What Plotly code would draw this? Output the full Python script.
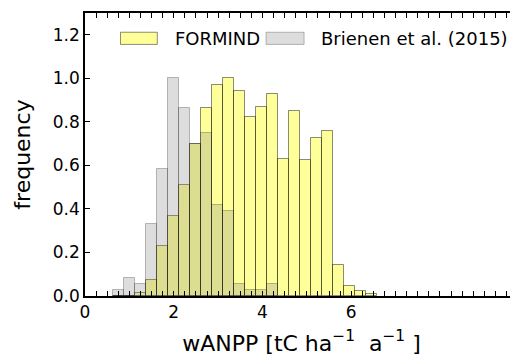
import plotly.graph_objects as go

# bin centers (tC ha^-1 a^-1), bins ~0.248 wide
bin_centers = [0.744, 0.992, 1.240, 1.488, 1.736, 1.984, 2.232, 2.480, 2.728, 2.976,
               3.224, 3.472, 3.720, 3.968, 4.216, 4.464, 4.712, 4.960, 5.208, 5.456,
               5.704, 5.952, 6.200, 6.448]
bin_width = 0.248

formind = [0.0, 0.0, 0.012, 0.075, 0.232, 0.366, 0.509, 0.697, 0.863, 0.969,
           1.0, 0.942, 0.823, 0.870, 0.929, 0.628, 0.852, 0.624, 0.726, 0.760,
           0.144, 0.047, 0.023, 0.009]
brienen = [0.026, 0.081, 0.054, 0.332, 0.584, 1.0, 0.863, 0.700, 0.751, 0.417,
           0.389, 0.055, 0.028, 0.028, 0.055]

x_major = [0, 2, 4, 6]
x_minor_step = 0.25
y_tickvals = [0.0, 0.2, 0.4, 0.6, 0.8, 1.0, 1.2]
y_ticktext = ["0.0", "0.2", "0.4", "0.6", "0.8", "1.0", "1.2"]

FONT = "DejaVu Sans"

fig = go.Figure()
fig.add_trace(go.Bar(
    x=bin_centers, y=formind, width=[bin_width] * len(formind),
    name="FORMIND", showlegend=False,
    marker=dict(color="rgba(255,255,0,0.4)", line=dict(color="rgba(0,0,0,0.45)", width=1)),
))
fig.add_trace(go.Bar(
    x=bin_centers[:len(brienen)], y=brienen, width=[bin_width] * len(brienen),
    name="Brienen et al. (2015)", showlegend=False,
    marker=dict(color="rgba(128,128,128,0.27)", line=dict(color="rgba(0,0,0,0.25)", width=1)),
))

# manual legend (matplotlib-style wide patches)
legend_items = [
    ("FORMIND", "rgba(255,255,0,0.4)", "rgba(0,0,0,0.45)", 0.082, 0.167, 0.2035),
    ("Brienen et al. (2015)", "rgba(128,128,128,0.27)", "rgba(0,0,0,0.25)", 0.418, 0.506, 0.5393),
]
shapes = []
annotations = []
for label, fc, lc, x0, x1, tx in legend_items:
    shapes.append(dict(type="rect", xref="paper", yref="paper", x0=x0, x1=x1,
                       y0=0.889, y1=0.932, fillcolor=fc, line=dict(color=lc, width=1)))
    annotations.append(dict(text=label, xref="paper", yref="paper", x=tx, y=0.911,
                            xanchor="left", yanchor="middle", showarrow=False,
                            font=dict(family=FONT, size=18, color="black")))

fig.update_layout(
    width=518, height=360,
    margin=dict(l=76.5, r=8, t=5, b=71.5),
    paper_bgcolor="white", plot_bgcolor="white",
    barmode="overlay", bargap=0,
    font=dict(family=FONT, size=17, color="black"),
    shapes=shapes, annotations=annotations,
    xaxis=dict(
        range=[0, 9.76], showgrid=False, zeroline=False, automargin=False,
        showline=True, linecolor="black", linewidth=1.6, mirror="allticks",
        ticks="inside", ticklen=5, tickwidth=1, tickcolor="black",
        tickvals=x_major, ticktext=[str(v) for v in x_major],
        minor=dict(ticks="inside", ticklen=5, tickwidth=1, tickcolor="black",
                   dtick=x_minor_step, tick0=0, showgrid=False),
        tickfont=dict(family=FONT, size=17),
        title=dict(text="wANPP [tC ha<sup>−1</sup>  a<sup>−1</sup> ]",
                   font=dict(family=FONT, size=22), standoff=14),
    ),
    yaxis=dict(
        range=[0, 1.3], showgrid=False, zeroline=False, automargin=False,
        showline=True, linecolor="black", linewidth=1.6, mirror=False,
        ticks="inside", ticklen=5, tickwidth=1, tickcolor="black",
        tickvals=y_tickvals, ticktext=y_ticktext,
        tickfont=dict(family=FONT, size=17),
        title=dict(text="frequency", font=dict(family=FONT, size=22), standoff=16),
    ),
)

fig.write_html("out.html")
